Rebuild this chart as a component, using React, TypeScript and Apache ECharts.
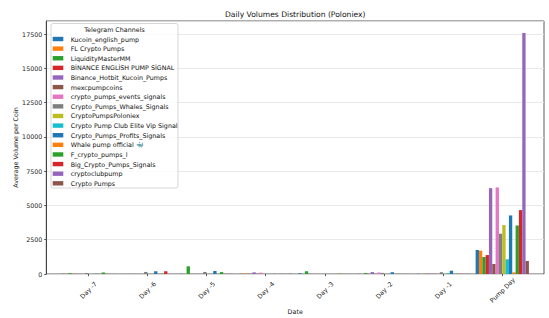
import React, { useEffect, useRef } from 'react';
import * as echarts from 'echarts';

const categories = ['Day -7', 'Day -6', 'Day -5', 'Day -4', 'Day -3', 'Day -2', 'Day -1', 'Pump Day'];

const channels = [
  'Kucoin_english_pump',
  'FL Crypto Pumps',
  'LiquidityMasterMM',
  'BİNANCE ENGLİSH PUMP SİGNAL',
  'Binance_Hotbit_Kucoin_Pumps',
  'mexcpumpcoins',
  'crypto_pumps_events_signals',
  'Crypto_Pumps_Whales_Signals',
  'CryptoPumpsPoloniex',
  'Crypto Pump Club Elite Vip Signal',
  'Crypto_Pumps_Profits_Signals',
  'Whale pump official 🐳',
  'F_crypto_pumps_l',
  'Big_Crypto_Pumps_Signals',
  'cryptoclubpump',
  'Crypto Pumps',
];

const kucoinEnglishPump = [15, 5, 10, 15, 50, 10, 15, 1750];
const flCryptoPumps = [15, 5, 5, 50, 5, 5, 5, 1700];
const liquidityMasterMM = [60, 5, 560, 10, 200, 70, 10, 1240];
const binanceEnglishPumpSignal = [10, 5, 5, 15, 5, 10, 20, 1380];
const binanceHotbitKucoinPumps = [15, 5, 5, 120, 5, 140, 15, 6260];
const mexcpumpcoins = [5, 5, 5, 15, 5, 10, 15, 730];
const cryptoPumpsEventsSignals = [5, 5, 5, 100, 5, 110, 10, 6310];
const cryptoPumpsWhalesSignals = [70, 150, 150, 10, 5, 80, 130, 2940];
const cryptoPumpsPoloniex = [5, 10, 5, 5, 5, 10, 5, 3570];
const cryptoPumpClubEliteVip = [5, 5, 5, 5, 5, 5, 50, 1070];
const cryptoPumpsProfitsSignals = [15, 200, 220, 10, 5, 130, 240, 4270];
const whalePumpOfficial = [5, 5, 5, 5, 5, 5, 5, 120];
const fCryptoPumpsL = [110, 15, 140, 10, 20, 10, 20, 3540];
const bigCryptoPumpsSignals = [10, 200, 10, 5, 5, 5, 10, 4660];
const cryptoclubpump = [5, 5, 20, 5, 5, 5, 10, 17573];
const cryptoPumps = [5, 5, 10, 20, 5, 5, 10, 950];

const seriesValues = [
  kucoinEnglishPump,
  flCryptoPumps,
  liquidityMasterMM,
  binanceEnglishPumpSignal,
  binanceHotbitKucoinPumps,
  mexcpumpcoins,
  cryptoPumpsEventsSignals,
  cryptoPumpsWhalesSignals,
  cryptoPumpsPoloniex,
  cryptoPumpClubEliteVip,
  cryptoPumpsProfitsSignals,
  whalePumpOfficial,
  fCryptoPumpsL,
  bigCryptoPumpsSignals,
  cryptoclubpump,
  cryptoPumps,
];

const yMax = 18450;
const yInterval = 2500;

const palette = [
  '#1f77b4', '#ff7f0e', '#2ca02c', '#d62728', '#9467bd',
  '#8c564b', '#e377c2', '#7f7f7f', '#bcbd22', '#17becf',
];

export default function App() {
  const ref = useRef<HTMLDivElement>(null);
  useEffect(() => {
    const chart = echarts.init(ref.current!, null, { renderer: 'svg', width: 549, height: 318 });
    const font = 'DejaVu Sans';
    const frameLeft = 46.3;
    const frameTop = 21;
    const frameW = 497.7;
    const frameH = 253;
    const barLeft = 58.73;
    const barW = 473.1;

    const option = {
      animation: false,
      backgroundColor: '#ffffff',
      textStyle: { fontFamily: font },
      grid: [
        {
          left: frameLeft, top: frameTop, width: frameW, height: frameH,
          show: true, borderColor: '#333', borderWidth: 0.8, backgroundColor: 'transparent',
        },
        { left: barLeft, top: frameTop, width: barW, height: frameH },
      ],
      xAxis: [
        { gridIndex: 0, type: 'value', min: 0, max: 1, show: false },
        {
          gridIndex: 1,
          type: 'category',
          data: categories,
          boundaryGap: true,
          axisLine: { show: false },
          axisTick: { show: true, alignWithLabel: true, length: 2.2, lineStyle: { color: '#333', width: 0.8 } },
          axisLabel: {
            interval: 0, rotate: 45, align: 'center', verticalAlign: 'middle', margin: 16,
            fontSize: 6.35, color: '#222', fontFamily: font,
          },
          splitLine: { show: false },
        },
      ],
      yAxis: [
        {
          gridIndex: 0,
          type: 'value',
          min: 0,
          max: yMax,
          interval: yInterval,
          axisLine: { show: true, lineStyle: { color: '#333', width: 0.8 } },
          axisTick: { show: true, length: 2.2, lineStyle: { color: '#333', width: 0.8 } },
          axisLabel: {
            fontSize: 6.35, color: '#222', margin: 4, fontFamily: font, showMaxLabel: false,
            formatter: (v: number) => (v % yInterval === 0 ? String(v) : ''),
          },
          splitLine: { show: true, lineStyle: { color: '#e3e3e3', width: 0.8 } },
        },
        { gridIndex: 1, type: 'value', min: 0, max: yMax, show: false },
      ],
      legend: {
        data: channels,
        orient: 'vertical',
        left: 52.7,
        top: 34.2,
        itemWidth: 10.6,
        itemHeight: 4.4,
        itemGap: 0,
        padding: 0,
        icon: 'rect',
        selectedMode: false,
        z: 20,
        textStyle: { fontSize: 6.35, lineHeight: 9.62, color: '#111', fontFamily: font, padding: [0, 0, 0, 2.4] },
      },
      graphic: [
        {
          type: 'rect', z: 15,
          shape: { x: 51, y: 23.5, width: 127, height: 164.5, r: 2 },
          style: { fill: 'rgba(255,255,255,0.8)', stroke: '#cccccc', lineWidth: 0.8 },
        },
        {
          type: 'text', z: 16, x: 114.5, y: 29.3,
          style: { text: 'Telegram Channels', fontSize: 6.35, fontFamily: font, fill: '#111', align: 'center', verticalAlign: 'middle' },
        },
        {
          type: 'text', z: 16, x: 295.2, y: 14,
          style: { text: 'Daily Volumes Distribution (Poloniex)', fontSize: 7.6, fontFamily: font, fill: '#111', align: 'center', verticalAlign: 'middle' },
        },
        {
          type: 'text', z: 16, x: 295.2, y: 311,
          style: { text: 'Date', fontSize: 6.35, fontFamily: font, fill: '#222', align: 'center', verticalAlign: 'middle' },
        },
        {
          type: 'text', z: 16, x: 15, y: 147.5, rotation: Math.PI / 2,
          style: { text: 'Average Volume per Coin', fontSize: 6.35, fontFamily: font, fill: '#222', align: 'center', verticalAlign: 'middle' },
        },
      ],
      series: seriesValues.map((vals, i) => ({
        name: channels[i],
        type: 'bar',
        xAxisIndex: 1,
        yAxisIndex: 1,
        data: vals,
        barWidth: 3.33,
        barGap: '0%',
        itemStyle: { color: palette[i % palette.length] },
        emphasis: { disabled: true },
      })),
    };
    chart.setOption(option as any);
    return () => chart.dispose();
  }, []);
  return <div ref={ref} style={{ position: 'fixed', left: 0, top: 0, width: 549, height: 318 }} />;
}
